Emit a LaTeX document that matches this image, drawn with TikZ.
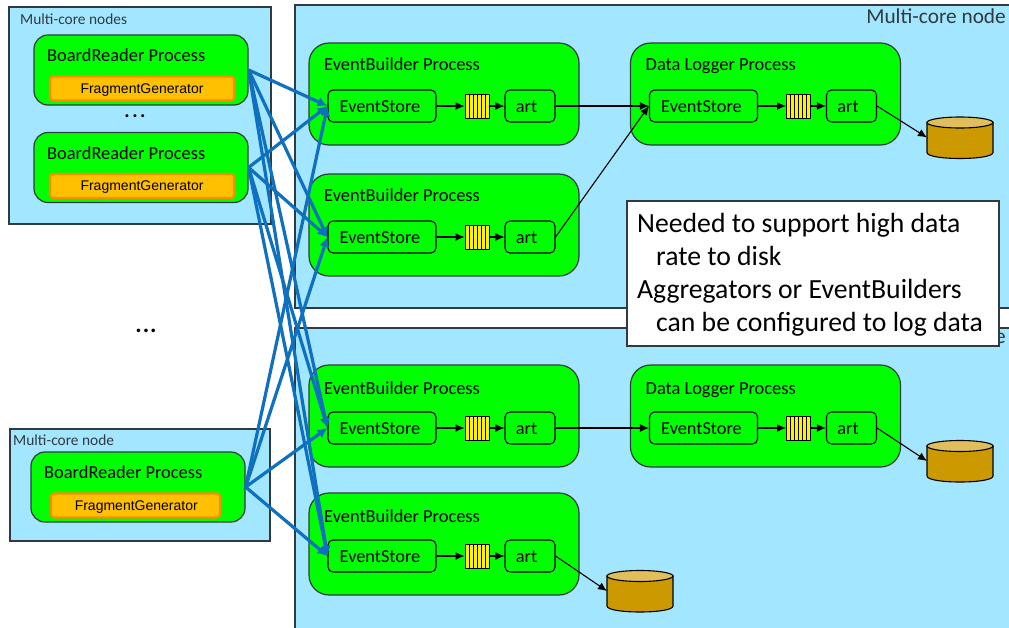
\documentclass[tikz,border=0pt]{standalone}
\usepackage{fontspec}
\setmainfont{Carlito}
\newfontfamily\fragfont{Liberation Sans}
\usetikzlibrary{shapes.geometric, arrows.meta, positioning, calc}
\definecolor{panelblue}{HTML}{A3E6FF}
\definecolor{linkblue}{HTML}{1070C0}
\definecolor{fragfill}{HTML}{FFC000}
\definecolor{fragedge}{HTML}{FF8C00}
\definecolor{diskfill}{HTML}{CC9900}
\definecolor{disktop}{HTML}{E0BE5C}
\definecolor{edgegrey}{HTML}{303A40}
\tikzset{
  panel/.style={draw=edgegrey, fill=panelblue, line width=1.2pt},
  process/.style={draw=edgegrey, fill=green, line width=1.2pt, rounded corners=20pt, minimum width=270pt, minimum height=102pt, inner sep=0pt},
  reader/.style={draw=edgegrey, fill=green, line width=1.2pt, rounded corners=14pt, minimum width=214pt, minimum height=70pt, inner sep=0pt},
  frag/.style={draw=fragedge, fill=fragfill, line width=2.2pt, rounded corners=3pt, minimum height=24pt, inner sep=0pt, text height=11pt, text depth=2pt, font=\fragfont\fontsize{14}{16}\selectfont},
  inner/.style={draw=black, line width=1.1pt, rounded corners=5pt, minimum height=32pt, inner sep=0pt, text height=14pt, text depth=2pt, font=\fontsize{18.3}{20}\selectfont},
  buffer/.style={draw=black, fill=yellow, line width=0.9pt, minimum width=24pt, minimum height=24pt, inner sep=0pt},
  disk/.style={minimum width=66pt, minimum height=41pt, inner sep=0pt, outer sep=0pt},
  title/.style={anchor=base west, inner sep=0pt, font=\fontsize{18.4}{20}\selectfont},
  flow/.style={-{Latex[length=9pt,width=8pt]}, draw=black, line width=1.1pt},
  bluelink/.style={-{Latex[length=10pt,width=10pt]}, draw=linkblue, line width=3.2pt}
}
\begin{document}
\begin{tikzpicture}[x=1pt,y=-1pt]
\clip (0,0) rectangle (1009,627);
\fill[white] (0,0) rectangle (1009,627);
% panels
\draw[panel] (295,5) rectangle (1020,308);
\draw[panel] (295,328) rectangle (1020,640);
\draw[panel] (9,7) rectangle (271,224);
\draw[panel] (10,429) rectangle (270,541);
\node[inner sep=0pt, anchor=east, font=\fontsize{21.3}{24}\selectfont, text=edgegrey] (lbltop) at (1006,16) {Multi-core node};
\node[inner sep=0pt, anchor=east, font=\fontsize{21.3}{24}\selectfont, text=edgegrey] (lbllow) at (1006,338) {e};
\node[inner sep=0pt, anchor=west, font=\fontsize{15.4}{18}\selectfont, text=edgegrey] (lblreaders) at (20,19) {Multi-core nodes};
\node[inner sep=0pt, anchor=west, font=\fontsize{15.4}{18}\selectfont, text=edgegrey] (lblreader) at (13,440) {Multi-core node};
% board readers
\foreach \nm/\xx/\yy/\fw/\fx/\fs in {bra/141/70/184/142/0, brb/141/167.5/184/142/0, brc/138/487/169/135.5/1.5}{
  \node[reader] (\nm) at (\xx,\yy) {};
  \node[title] (\nm t) at (\xx-94,\yy-8.5) {BoardReader Process};
  \node[frag, minimum width=\fw pt] (\nm f) at (\fx,\yy+18.5) {\hspace*{\fs pt}FragmentGenerator};
}
\node[inner sep=0pt, font=\bfseries\fontsize{20}{20}\selectfont] (dotsa) at (135,116) {.\kern2.5pt.\kern2.5pt.};
\node[inner sep=0pt, font=\bfseries\fontsize{24}{24}\selectfont] (dotsb) at (146,331) {.\kern1pt.\kern1pt.};
% event builders and loggers
\foreach \row/\dx/\yes/\ttl/\ttlname in {a/0/106/-35.5/EventBuilder Process, b/0/237/-35.5/EventBuilder Process, c/0/428/-33.5/EventBuilder Process, d/0/556/-33.5/EventBuilder Process, e/321.5/106/-35.5/Data Logger Process, f/321.5/428/-33.5/Data Logger Process}{
  \node[process] (proc\row) at (444+\dx,\yes-12) {};
  \node[title] (ttl\row) at (324+\dx,\yes+\ttl) {\ttlname};
  \node[inner, minimum width=108pt] (es\row) at (382+\dx,\yes) {EventStore\hspace*{4pt}};
  \node[buffer] (buf\row) at (477+\dx,\yes) {};
  \node[inner, minimum width=50pt] (art\row) at (530+\dx,\yes) {art\hspace*{7pt}};
  \foreach \i in {-8,-4,0,4,8}
    \draw[line width=0.9pt] ([xshift=\i pt]buf\row.north) -- ([xshift=\i pt]buf\row.south);
  \draw[flow] (es\row) -- (buf\row);
  \draw[flow] (buf\row) -- (art\row);
}
% disks
\node[disk] (diske) at (960,137.5) {};
\node[disk] (diskf) at (960,461) {};
\node[disk] (diskd) at (640,591) {};
\foreach \d in {diske,diskf,diskd}{
  \draw[fill=diskfill, line width=1.1pt] ($(\d)+(-33,-15)$) -- ($(\d)+(-33,15)$) .. controls ($(\d)+(-33,23)$) and ($(\d)+(33,23)$) .. ($(\d)+(33,15)$) -- ($(\d)+(33,-15)$) -- cycle;
  \draw[fill=disktop, line width=1.1pt] ($(\d)+(0,-15)$) ellipse [x radius=33, y radius=5.5];
}
\draw[flow] (arte.east) -- (diske.west);
\draw[flow] (artf.east) -- (diskf.west);
\draw[flow] (artd.east) -- (diskd.west);
\draw[flow] (arta) -- (ese);
\draw[flow] (artb.east) -- (ese.west);
\draw[flow] (artc) -- (esf);
% links
\foreach \src in {bra,brb,brc}
  \foreach \dst in {esa,esb,esc,esd}
    \draw[bluelink] (\src.east) -- (\dst.west);
% note
\node[draw=edgegrey, fill=white, line width=1.2pt, minimum width=372pt, minimum height=145pt, inner sep=0pt] (note) at (813,273.5) {};
\node[inner sep=0pt, anchor=north west, align=left, font=\fontsize{27.7}{33}\selectfont] (notetext) at (637,213) {Needed to support high data\\\hspace*{19pt}rate to disk\\Aggregators or EventBuilders\\\hspace*{19pt}can be configured to log data};
\end{tikzpicture}
\end{document}
